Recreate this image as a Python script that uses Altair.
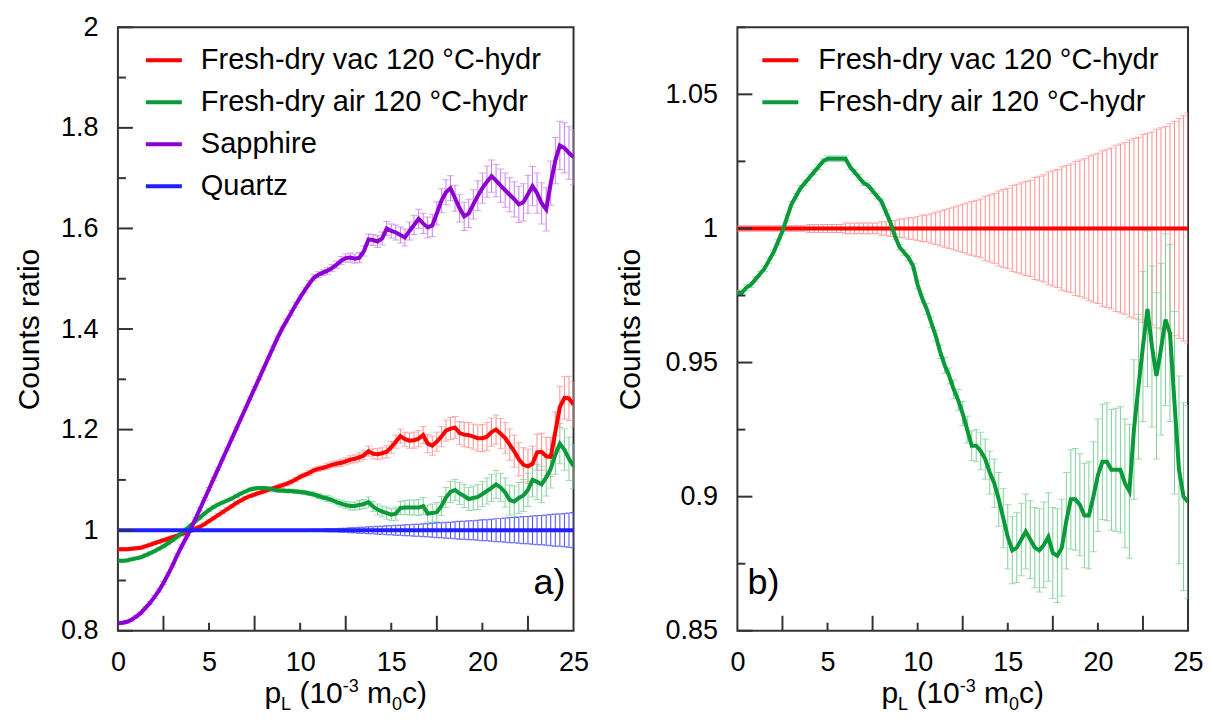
import altair as alt
import pandas as pd

# ---------------- data ----------------
X = [round(i * 0.25, 2) for i in range(101)]

NAMES_A = ["Fresh-dry vac 120 °C-hydr", "Fresh-dry air 120 °C-hydr", "Sapphire", "Quartz"]
NAMES_B = ["Fresh-dry vac 120 °C-hydr", "Fresh-dry air 120 °C-hydr"]

VAC_A = [
    0.962, 0.962, 0.962, 0.963, 0.964, 0.965, 0.968, 0.971, 0.974, 0.977, 0.980, 0.983, 0.986, 0.989, 0.992, 0.995, 0.999, 1.003, 1.007, 1.012,
    1.018, 1.024, 1.030, 1.036, 1.042, 1.048, 1.054, 1.059, 1.064, 1.068, 1.071, 1.074, 1.077, 1.080, 1.083, 1.086, 1.089, 1.092, 1.096, 1.101,
    1.106, 1.110, 1.114, 1.119, 1.122, 1.124, 1.127, 1.130, 1.132, 1.134, 1.137, 1.140, 1.142, 1.145, 1.149, 1.157, 1.152, 1.151, 1.153, 1.156,
    1.165, 1.176, 1.187, 1.181, 1.178, 1.179, 1.182, 1.189, 1.172, 1.168, 1.176, 1.186, 1.198, 1.202, 1.204, 1.193, 1.190, 1.189, 1.186, 1.183,
    1.183, 1.186, 1.195, 1.200, 1.192, 1.183, 1.170, 1.157, 1.141, 1.130, 1.127, 1.132, 1.155, 1.156, 1.147, 1.146, 1.195, 1.245, 1.263, 1.262,
    1.250]
VAC_A_ERR = [
    0.003, 0.003, 0.003, 0.003, 0.003, 0.003, 0.003, 0.003, 0.003, 0.003, 0.003, 0.003, 0.003, 0.003, 0.003, 0.003, 0.003, 0.003, 0.003, 0.003,
    0.003, 0.003, 0.003, 0.003, 0.003, 0.003, 0.003, 0.003, 0.003, 0.003, 0.003, 0.003, 0.004, 0.004, 0.004, 0.004, 0.004, 0.004, 0.004, 0.004,
    0.004, 0.004, 0.005, 0.005, 0.005, 0.005, 0.006, 0.006, 0.006, 0.007, 0.007, 0.008, 0.008, 0.009, 0.009, 0.010, 0.010, 0.011, 0.011, 0.012,
    0.012, 0.013, 0.014, 0.014, 0.015, 0.016, 0.016, 0.017, 0.018, 0.019, 0.019, 0.020, 0.021, 0.022, 0.022, 0.023, 0.024, 0.025, 0.025, 0.026,
    0.027, 0.028, 0.028, 0.029, 0.030, 0.031, 0.031, 0.032, 0.033, 0.034, 0.034, 0.035, 0.036, 0.037, 0.038, 0.039, 0.040, 0.041, 0.042, 0.044,
    0.045]

AIR_A = [
    0.939, 0.939, 0.940, 0.942, 0.944, 0.946, 0.950, 0.954, 0.958, 0.963, 0.968, 0.974, 0.980, 0.987, 0.994, 1.002, 1.010, 1.018, 1.025, 1.033,
    1.040, 1.046, 1.051, 1.055, 1.059, 1.063, 1.068, 1.073, 1.077, 1.081, 1.083, 1.084, 1.084, 1.083, 1.081, 1.079, 1.079, 1.078, 1.078, 1.077,
    1.076, 1.075, 1.073, 1.071, 1.068, 1.065, 1.063, 1.060, 1.056, 1.053, 1.050, 1.048, 1.048, 1.050, 1.052, 1.056, 1.047, 1.041, 1.037, 1.034,
    1.031, 1.033, 1.044, 1.045, 1.045, 1.045, 1.045, 1.048, 1.033, 1.034, 1.036, 1.048, 1.065, 1.076, 1.080, 1.073, 1.068, 1.062, 1.064, 1.066,
    1.072, 1.078, 1.084, 1.091, 1.085, 1.075, 1.060, 1.057, 1.064, 1.069, 1.080, 1.100, 1.096, 1.091, 1.105, 1.122, 1.150, 1.172, 1.160, 1.142,
    1.127]
AIR_A_ERR = [
    0.003, 0.003, 0.003, 0.003, 0.003, 0.003, 0.003, 0.003, 0.003, 0.003, 0.003, 0.003, 0.003, 0.003, 0.003, 0.003, 0.003, 0.003, 0.003, 0.003,
    0.003, 0.003, 0.003, 0.003, 0.003, 0.003, 0.003, 0.003, 0.003, 0.003, 0.003, 0.003, 0.003, 0.003, 0.003, 0.003, 0.004, 0.004, 0.004, 0.004,
    0.004, 0.004, 0.004, 0.005, 0.005, 0.005, 0.006, 0.006, 0.006, 0.007, 0.007, 0.008, 0.008, 0.009, 0.009, 0.010, 0.010, 0.011, 0.011, 0.012,
    0.012, 0.013, 0.013, 0.014, 0.015, 0.015, 0.016, 0.017, 0.017, 0.018, 0.019, 0.019, 0.020, 0.021, 0.021, 0.022, 0.023, 0.023, 0.024, 0.025,
    0.025, 0.026, 0.027, 0.028, 0.028, 0.029, 0.030, 0.031, 0.031, 0.032, 0.033, 0.034, 0.035, 0.036, 0.037, 0.038, 0.039, 0.040, 0.041, 0.043,
    0.044]

SAPPHIRE_A = [
    0.815, 0.816, 0.818, 0.822, 0.828, 0.835, 0.845, 0.855, 0.867, 0.880, 0.895, 0.912, 0.930, 0.950, 0.968, 0.985, 1.002, 1.022, 1.042, 1.062,
    1.082, 1.102, 1.122, 1.142, 1.162, 1.182, 1.202, 1.222, 1.242, 1.262, 1.282, 1.302, 1.322, 1.342, 1.362, 1.382, 1.400, 1.416, 1.432, 1.448,
    1.463, 1.477, 1.490, 1.502, 1.508, 1.512, 1.516, 1.521, 1.528, 1.536, 1.541, 1.542, 1.540, 1.542, 1.555, 1.578, 1.577, 1.574, 1.580, 1.600,
    1.595, 1.592, 1.587, 1.582, 1.595, 1.607, 1.619, 1.610, 1.602, 1.606, 1.630, 1.655, 1.672, 1.680, 1.660, 1.640, 1.624, 1.630, 1.648, 1.665,
    1.680, 1.693, 1.704, 1.695, 1.685, 1.676, 1.667, 1.658, 1.648, 1.652, 1.668, 1.684, 1.670, 1.650, 1.638, 1.690, 1.735, 1.765, 1.760, 1.750,
    1.742]
SAPPHIRE_A_ERR = [
    0.003, 0.003, 0.003, 0.003, 0.003, 0.003, 0.003, 0.003, 0.003, 0.003, 0.003, 0.003, 0.003, 0.003, 0.003, 0.003, 0.003, 0.003, 0.003, 0.003,
    0.003, 0.003, 0.003, 0.003, 0.003, 0.003, 0.003, 0.003, 0.003, 0.003, 0.003, 0.003, 0.003, 0.003, 0.004, 0.004, 0.004, 0.004, 0.005, 0.005,
    0.005, 0.005, 0.006, 0.006, 0.006, 0.006, 0.007, 0.007, 0.007, 0.008, 0.008, 0.009, 0.009, 0.010, 0.010, 0.011, 0.011, 0.012, 0.013, 0.014,
    0.014, 0.015, 0.016, 0.017, 0.018, 0.019, 0.019, 0.020, 0.021, 0.022, 0.023, 0.024, 0.025, 0.025, 0.026, 0.027, 0.028, 0.028, 0.029, 0.030,
    0.030, 0.031, 0.032, 0.032, 0.033, 0.034, 0.034, 0.035, 0.036, 0.037, 0.038, 0.039, 0.040, 0.041, 0.043, 0.044, 0.046, 0.048, 0.050, 0.052,
    0.055]

QUARTZ_A = [1.0] * 101
QUARTZ_A_ERR = [
    0.001, 0.001, 0.001, 0.001, 0.001, 0.001, 0.001, 0.001, 0.001, 0.001, 0.001, 0.001, 0.001, 0.001, 0.001, 0.001, 0.001, 0.001, 0.001, 0.001,
    0.001, 0.001, 0.001, 0.001, 0.001, 0.001, 0.001, 0.001, 0.001, 0.001, 0.001, 0.001, 0.001, 0.001, 0.001, 0.001, 0.001, 0.001, 0.001, 0.001,
    0.001, 0.001, 0.002, 0.002, 0.002, 0.002, 0.003, 0.003, 0.003, 0.004, 0.004, 0.005, 0.005, 0.006, 0.006, 0.007, 0.007, 0.008, 0.008, 0.009,
    0.009, 0.010, 0.010, 0.011, 0.011, 0.012, 0.012, 0.013, 0.013, 0.014, 0.015, 0.015, 0.016, 0.016, 0.017, 0.018, 0.018, 0.019, 0.019, 0.020,
    0.021, 0.021, 0.022, 0.023, 0.023, 0.024, 0.025, 0.025, 0.026, 0.027, 0.027, 0.028, 0.029, 0.029, 0.030, 0.031, 0.032, 0.032, 0.033, 0.034,
    0.035]

VAC_B = [1.0] * 101
VAC_B_ERR = [
    0.001, 0.001, 0.001, 0.001, 0.001, 0.001, 0.001, 0.001, 0.001, 0.001, 0.001, 0.001, 0.001, 0.001, 0.001, 0.001, 0.0015, 0.0015, 0.0015, 0.0015,
    0.0015, 0.0015, 0.0015, 0.0015, 0.002, 0.002, 0.002, 0.002, 0.002, 0.002, 0.002, 0.002, 0.0025, 0.0025, 0.003, 0.003, 0.0035, 0.0035, 0.004, 0.004,
    0.0045, 0.005, 0.005, 0.0055, 0.006, 0.0065, 0.007, 0.0075, 0.008, 0.0085, 0.009, 0.0095, 0.010, 0.0105, 0.011, 0.012, 0.0125, 0.013, 0.014, 0.0145,
    0.015, 0.016, 0.0165, 0.017, 0.0175, 0.018, 0.019, 0.0195, 0.020, 0.021, 0.0215, 0.022, 0.023, 0.0235, 0.024, 0.025, 0.0255, 0.026, 0.027, 0.0275,
    0.028, 0.029, 0.0295, 0.030, 0.031, 0.0315, 0.032, 0.033, 0.0335, 0.034, 0.035, 0.0355, 0.036, 0.037, 0.0375, 0.038, 0.039, 0.040, 0.041, 0.042,
    0.043]

AIR_B = [
    0.976, 0.976, 0.978, 0.979, 0.981, 0.983, 0.985, 0.988, 0.991, 0.995, 0.999, 1.004, 1.009, 1.012, 1.015, 1.017, 1.019, 1.021, 1.023, 1.025,
    1.026, 1.026, 1.026, 1.026, 1.026, 1.023, 1.021, 1.019, 1.017, 1.016, 1.014, 1.012, 1.010, 1.006, 1.002, 0.997, 0.993, 0.991, 0.989, 0.986,
    0.979, 0.974, 0.970, 0.965, 0.960, 0.954, 0.949, 0.945, 0.940, 0.936, 0.931, 0.925, 0.919, 0.919, 0.917, 0.914, 0.909, 0.905, 0.899, 0.892,
    0.885, 0.880, 0.881, 0.884, 0.887, 0.884, 0.881, 0.880, 0.882, 0.885, 0.879, 0.878, 0.881, 0.891, 0.899, 0.899, 0.897, 0.893, 0.893, 0.900,
    0.908, 0.913, 0.913, 0.910, 0.910, 0.910, 0.905, 0.902, 0.925, 0.941, 0.956, 0.970, 0.956, 0.945, 0.955, 0.966, 0.961, 0.935, 0.910, 0.900,
    0.898]
AIR_B_ERR = [
    0.001, 0.001, 0.001, 0.001, 0.001, 0.001, 0.001, 0.001, 0.001, 0.001, 0.001, 0.001, 0.001, 0.001, 0.001, 0.001, 0.001, 0.001, 0.001, 0.001,
    0.001, 0.001, 0.001, 0.001, 0.001, 0.001, 0.001, 0.001, 0.001, 0.001, 0.001, 0.001, 0.001, 0.001, 0.001, 0.001, 0.001, 0.001, 0.001, 0.001,
    0.0015, 0.0015, 0.002, 0.002, 0.002, 0.0025, 0.003, 0.003, 0.0035, 0.004, 0.0045, 0.005, 0.0055, 0.006, 0.007, 0.0075, 0.008, 0.009, 0.010, 0.011,
    0.012, 0.0125, 0.013, 0.0135, 0.014, 0.0145, 0.015, 0.0155, 0.016, 0.0165, 0.017, 0.0175, 0.018, 0.018, 0.0185, 0.019, 0.019, 0.0195, 0.020, 0.0205,
    0.021, 0.0215, 0.022, 0.0225, 0.023, 0.0235, 0.024, 0.025, 0.026, 0.027, 0.028, 0.029, 0.030, 0.031, 0.032, 0.032, 0.033, 0.034, 0.035, 0.035,
    0.036]

X_LABELS = [0, 5, 10, 15, 20, 25]
X_LONG_TICKS = [2.5, 7.5, 12.5, 17.5, 22.5]
X_SHORT_TICKS = [5, 10, 15, 20]
Y_LABELS_A = [0.8, 1.0, 1.2, 1.4, 1.6, 1.8, 2.0]
Y_MINOR_A = [0.9, 1.1, 1.3, 1.5, 1.7, 1.9]
Y_LABELS_B = [0.85, 0.9, 0.95, 1.0, 1.05]
Y_MINOR_B = [0.875, 0.925, 0.975, 1.025, 1.075]

for arr in [VAC_A, VAC_A_ERR, AIR_A, AIR_A_ERR, SAPPHIRE_A, SAPPHIRE_A_ERR, QUARTZ_A_ERR,
            VAC_B_ERR, AIR_B, AIR_B_ERR]:
    assert len(arr) == 101, len(arr)

# ---------------- styling ----------------
FONT = "Liberation Sans"
AXC = "#333333"
LINE_A = ["#ff0000", "#0a9a3a", "#8c00d2", "#1f1fff"]
BAR_A = ["#ff8f8f", "#80cf98", "#c77ee8", "#4a4aff"]
LINE_B = LINE_A[:2]
BAR_B = BAR_A[:2]

ARIAL_W = {"p": 556, "L": 556, "(": 333, ")": 333, "1": 556, "0": 556, "-": 333,
           "3": 556, "m": 833, "c": 500, " ": 278}


def text_w(s, size):
    return sum(ARIAL_W.get(ch, 556) for ch in s) * size / 1000.0


def make_table(names, vals, errs):
    frames = []
    for n, v, e in zip(names, vals, errs):
        frames.append(pd.DataFrame({
            "x": X, "v": v,
            "lo": [a - b for a, b in zip(v, e)],
            "hi": [a + b for a, b in zip(v, e)],
            "series": n}))
    return pd.concat(frames, ignore_index=True)


def x_title_layers(W, H):
    big, small = 30, 18
    base_y = H + 72
    pieces = [("p", big, 0), ("L", small, 7), (" ", big, 0), ("(10", big, 0),
              ("-3", small, -11), (" ", big, 0), ("m", big, 0), ("0", small, 7), ("c)", big, 0)]
    total = sum(text_w(t, s) for t, s, _ in pieces)
    x0 = W / 2.0 - total / 2.0
    layers = []
    for t, s, dy in pieces:
        if t.strip():
            layers.append(
                alt.Chart(pd.DataFrame({"t": [t]}))
                .mark_text(font=FONT, fontSize=s, align="left", baseline="alphabetic", color="black")
                .encode(text="t:N", x=alt.value(x0), y=alt.value(base_y + dy)))
        x0 += text_w(t, s)
    return layers


def panel(df, names, line_cols, bar_cols, ydom, ylabels, yminor, W, H, tag, tag_left,
          legend_x, label_off, title_pad):
    xs = alt.Scale(domain=[0, 25], nice=False, zero=False)
    ys = alt.Scale(domain=ydom, nice=False, zero=False)
    ax_x = alt.Axis(
        values=X_LABELS, format="d", title=None, labelFont=FONT, labelFontSize=27,
        labelColor="black", labelPadding=19, ticks=False, tickSize=0, domain=False,
        grid=False, labelFlush=False, labelOverlap=False)
    ax_y = alt.Axis(
        values=ylabels, format="~g", title="Counts ratio", titleFont=FONT, titleFontSize=30,
        titleFontWeight="normal", titleColor="black", titlePadding=title_pad,
        labelFont=FONT, labelFontSize=27, labelColor="black", labelPadding=20,
        ticks=False, tickSize=0, domain=False, grid=False, labelFlush=False,
        labelOverlap=False)

    def xenc(field):
        return alt.X(field, scale=xs, axis=ax_x)

    def yenc(field):
        return alt.Y(field, scale=ys, axis=ax_y)

    layers = []
    for n, c in zip(names, bar_cols):
        layers.append(
            alt.Chart(df).transform_filter(alt.datum.series == n)
            .mark_errorbar(ticks=True, size=7, thickness=1, color=c, clip=True)
            .encode(x=xenc("x:Q"), y=yenc("lo:Q"), y2="hi:Q"))
    lines = alt.Chart(df).mark_line(strokeWidth=4, clip=True).encode(
        x=xenc("x:Q"),
        y=yenc("v:Q"),
        color=alt.Color("series:N", sort=names,
                        scale=alt.Scale(domain=names, range=line_cols),
                        legend=alt.Legend(
                            title=None, orient="none", legendX=legend_x, legendY=13,
                            direction="vertical", symbolType="stroke", symbolSize=1296,
                            symbolStrokeWidth=4, labelFont=FONT, labelFontSize=29,
                            labelColor="black", labelOffset=label_off, labelLimit=600,
                            rowPadding=7, padding=0)),
    )
    layers.append(lines)

    def tick_chart(vals, axis_ch, length):
        d = pd.DataFrame({"t": vals})
        c = alt.Chart(d).mark_rule(color=AXC, strokeWidth=2)
        if axis_ch == "y":
            return c.encode(y=yenc("t:Q"), x=alt.value(0), x2=alt.value(length))
        return c.encode(x=xenc("t:Q"), y=alt.value(H), y2=alt.value(H - length))

    layers.append(tick_chart(ylabels, "y", 15))
    layers.append(tick_chart(yminor, "y", 8))
    layers.append(tick_chart(X_LONG_TICKS, "x", 15))
    layers.append(tick_chart(X_SHORT_TICKS, "x", 8))

    if tag_left:
        tag_layer = alt.Chart(pd.DataFrame({"t": [tag]})).mark_text(
            font=FONT, fontSize=36, align="left", baseline="alphabetic", color="black"
        ).encode(text="t:N", x=alt.value(10), y=alt.value(H - 37))
    else:
        tag_layer = alt.Chart(pd.DataFrame({"t": [tag]})).mark_text(
            font=FONT, fontSize=36, align="right", baseline="alphabetic", color="black"
        ).encode(text="t:N", x=alt.value(W - 8), y=alt.value(H - 37))
    layers.append(tag_layer)
    layers.extend(x_title_layers(W, H))
    return alt.layer(*layers).properties(width=W, height=H)


H = 604
WA = 456
WB = 451

df_a = make_table(NAMES_A, [VAC_A, AIR_A, SAPPHIRE_A, QUARTZ_A],
                  [VAC_A_ERR, AIR_A_ERR, SAPPHIRE_A_ERR, QUARTZ_A_ERR])
df_b = make_table(NAMES_B, [VAC_B, AIR_B], [VAC_B_ERR, AIR_B_ERR])

left = panel(df_a, NAMES_A, LINE_A, BAR_A, [0.8, 2.0], Y_LABELS_A, Y_MINOR_A, WA, H,
             "a)", False, 26, 17, 16)
right = panel(df_b, NAMES_B, LINE_B, BAR_B, [0.85, 1.075], Y_LABELS_B, Y_MINOR_B, WB, H,
              "b)", True, 23, 18, 19)

chart = (
    alt.hconcat(left, right, spacing=164, bounds="flush")
    .resolve_scale(x="independent", y="independent", color="independent")
    .resolve_legend(color="independent")
    .configure_view(stroke=AXC, strokeWidth=2)
    .properties(padding={"left": 5, "top": 4, "right": 0, "bottom": 0}, background="white")
)

chart.save("out.html", embed_options={"renderer": "svg", "actions": False})
